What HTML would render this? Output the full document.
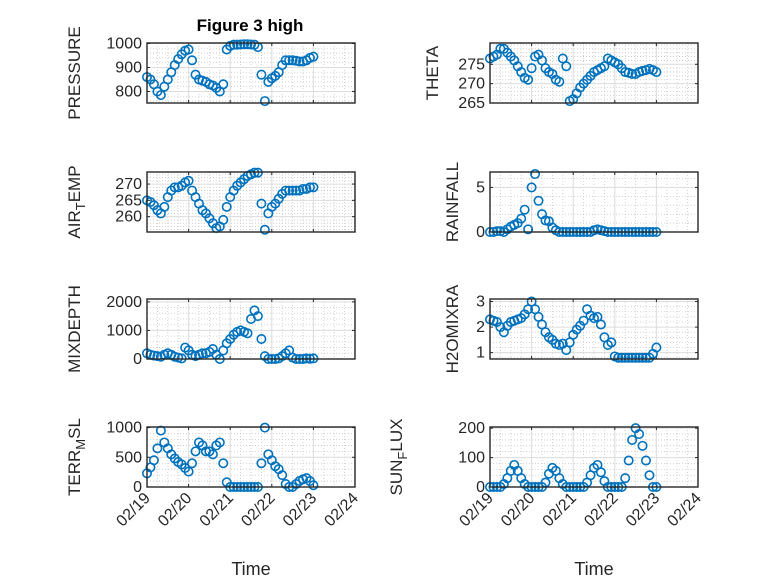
<!DOCTYPE html>
<html><head><meta charset="utf-8"><style>
html,body{margin:0;padding:0;background:#fff;}
svg{display:block;font-family:"Liberation Sans",sans-serif;}
</style></head><body>
<svg id="fig" width="778" height="583" viewBox="0 0 778 583">
<rect width="778" height="583" fill="#fff"/>
<text x="250" y="31" text-anchor="middle" font-size="17" font-weight="bold" fill="#000">Figure 3 high</text>
</svg>
<script>
// hours 0..96 step 2
const hours = [0,2,4,6,8,10,12,14,16,18,20,22,24,26,28,30,32,34,36,38,40,42,44,46,48,50,52,54,56,58,60,62,64,66,68,70,72,74,76,78,80,82,84,86,88,90,92,94,96];
const dayLabels = ["02/19","02/20","02/21","02/22","02/23","02/24"];
const pressure = [860,850,830,800,785,820,850,880,910,935,955,970,975,930,870,850,845,840,830,825,815,800,830,975,990,995,995,996,997,997,996,995,985,870,760,840,855,865,880,910,930,930,930,928,925,925,930,940,945];
const airTemp = [265,264.5,263.5,262,261,263,266,268,269,269,269.5,270.5,271,268,266,264,262,261,259.5,258,256.5,257,259,263,266,268,269.5,270.5,271.5,272.5,273,273.5,273.5,264,256,261,263,264,265.5,267,268,268,268,268,268,268.5,268.5,269,269];
const mixDepth = [200,150,120,100,80,150,200,150,80,50,20,400,300,150,100,150,200,200,250,350,150,0,300,550,700,850,950,1000,950,900,1400,1700,1500,700,100,0,0,0,20,100,200,300,50,0,0,0,20,10,20];
const terrMsl = [230,330,450,650,950,750,650,550,480,420,380,320,260,400,600,750,700,600,600,550,700,750,400,80,0,0,0,0,0,0,0,0,0,400,1000,550,450,350,300,200,50,0,0,50,100,130,150,100,30];
const theta = [276.5,277,277.5,279,279,278,277,276,274.5,273,271.5,271,274,277,277.5,276,274,273,272.5,271,270.5,276.5,274.5,265.5,266,267.5,269,270,271,272,273,273.5,274,274.5,276.5,276,275.5,275,274,273,272.8,272.5,272.5,273,273.3,273.5,273.8,273.5,273];
const rainfall = [0,0,0.1,0.1,0,0.3,0.6,0.8,1,1.5,2.5,0.3,5,6.5,3.5,2,1.3,1.2,0.5,0.2,0,0,0,0,0,0,0,0,0,0,0.2,0.3,0.2,0.1,0,0,0,0,0,0,0,0,0,0,0,0,0,0,0];
const h2oMixRa = [2.3,2.25,2.2,2.0,1.8,2.05,2.2,2.25,2.3,2.35,2.5,2.7,3.0,2.7,2.4,2.1,1.8,1.6,1.5,1.35,1.3,1.35,1.1,1.4,1.7,1.9,2.05,2.25,2.7,2.45,2.35,2.4,2.1,1.6,1.3,1.4,0.85,0.8,0.8,0.8,0.8,0.8,0.8,0.8,0.8,0.8,0.8,0.95,1.2];
const sunFlux = [0,0,0,0,10,30,55,75,55,30,10,0,0,0,0,0,15,45,65,55,30,10,0,0,0,0,0,0,15,40,65,75,50,20,0,0,0,0,0,30,90,160,200,180,140,90,40,0,0];

const pressureTicks=[800,900,1000], airTicks=[260,265,270], mixTicks=[0,1000,2000], terrTicks=[0,500,1000];
const thetaTicks=[265,270,275], rainTicks=[0,5], h2oTicks=[1,2,3], sunTicks=[0,100,200];

const NS="http://www.w3.org/2000/svg";
const svg=document.getElementById('fig');
function mk(tag,attrs,parent){const e=document.createElementNS(NS,tag);for(const k in attrs)e.setAttribute(k,attrs[k]);(parent||svg).appendChild(e);return e;}

const panels=[
 {id:'pressure',data:pressure,ticks:pressureTicks,ylim:[752,1002],minor:20,L:147,T:43,label:['PRESSURE'],lx:80},
 {id:'air-temp',data:airTemp,ticks:airTicks,ylim:[255.3,273.7],minor:1,L:147,T:172,label:['AIR','T','EMP'],lx:80},
 {id:'mixdepth',data:mixDepth,ticks:mixTicks,ylim:[0,2100],minor:200,L:147,T:299,label:['MIXDEPTH'],lx:80},
 {id:'terr-msl',data:terrMsl,ticks:terrTicks,ylim:[0,1010],minor:100,L:147,T:427,label:['TERR','M','SL'],lx:80},
 {id:'theta',data:theta,ticks:thetaTicks,ylim:[265,280.5],minor:1,L:490,T:43,label:['THETA'],lx:438},
 {id:'rainfall',data:rainfall,ticks:rainTicks,ylim:[0,6.73],minor:1,L:490,T:172,label:['RAINFALL'],lx:458},
 {id:'h2omixra',data:h2oMixRa,ticks:h2oTicks,ylim:[0.75,3.1],minor:0.2,L:490,T:299,label:['H2OMIXRA'],lx:458},
 {id:'sun-flux',data:sunFlux,ticks:sunTicks,ylim:[0,204],minor:20,L:490,T:427,label:['SUN','F','LUX'],lx:402}
];
const W=208,H=60;
panels.forEach((p,pi)=>{
  const g=mk('g',{});
  
  
  const xs=h=>p.L+h/120*W;
  const ys=v=>p.T+H-(v-p.ylim[0])/(p.ylim[1]-p.ylim[0])*H;
  mk('rect',{x:p.L,y:p.T,width:W,height:H,fill:'#fff'},g);
  for(let h=6;h<120;h+=6){ if(h%24===0)continue; mk('line',{x1:xs(h),x2:xs(h),y1:p.T,y2:p.T+H,stroke:'#c8c8c8','stroke-width':0.8,'stroke-dasharray':'1,2'},g);}
  const step=p.minor;
  for(let v=Math.ceil(p.ylim[0]/step)*step;v<p.ylim[1];v+=step){
    if(p.ticks.some(t=>Math.abs(t-v)<1e-6))continue;
    mk('line',{x1:p.L,x2:p.L+W,y1:ys(v),y2:ys(v),stroke:'#c8c8c8','stroke-width':0.8,'stroke-dasharray':'1,2'},g);
  }
  for(let d=1;d<5;d++) mk('line',{x1:xs(d*24),x2:xs(d*24),y1:p.T,y2:p.T+H,stroke:'#dcdcdc','stroke-width':1},g);
  p.ticks.forEach(t=>{const y=ys(t); mk('line',{x1:p.L,x2:p.L+W,y1:y,y2:y,stroke:'#dcdcdc','stroke-width':1},g);
    const tl=mk('text',{x:p.L-5,y:y+5,'text-anchor':'end','font-size':16,fill:'#262626'},g); tl.textContent=t;
    
    
    mk('line',{x1:p.L,x2:p.L+3,y1:y,y2:y,stroke:'#262626','stroke-width':1},g);
    mk('line',{x1:p.L+W,x2:p.L+W-3,y1:y,y2:y,stroke:'#262626','stroke-width':1},g);
  });
  for(let d=0;d<=5;d++){const x=xs(d*24);
    mk('line',{x1:x,x2:x,y1:p.T+H,y2:p.T+H-3,stroke:'#262626','stroke-width':1},g);
    mk('line',{x1:x,x2:x,y1:p.T,y2:p.T+3,stroke:'#262626','stroke-width':1},g);
  }
  const clip='clip'+pi;
  const cp=mk('clipPath',{id:clip},g); mk('rect',{x:p.L-7,y:p.T-7,width:W+14,height:H+14},cp);
  const dg=mk('g',{'clip-path':'url(#'+clip+')'},g);
  
  
  hours.forEach((h,i)=>{
    const c=mk('circle',{cx:xs(h),cy:ys(p.data[i]),r:4.2,fill:'none',stroke:'#0072BD','stroke-width':1.6},dg);
    
    
  });
  mk('rect',{x:p.L,y:p.T,width:W,height:H,fill:'none',stroke:'#262626','stroke-width':1.4},g);
  const cy=p.T+H/2;
  const lab=mk('text',{x:p.lx,y:cy,'text-anchor':'middle','font-size':17,fill:'#262626',transform:`rotate(-90 ${p.lx} ${cy})`},g);
  
  
  if(p.label.length===1){lab.textContent=p.label[0];}
  else{
    const a=mk('tspan',{},lab);a.textContent=p.label[0];
    const b=mk('tspan',{'font-size':13,dy:5},lab);b.textContent=p.label[1];
    const c=mk('tspan',{dy:-5},lab);c.textContent=p.label[2];
  }
  if(p.T===427){
    dayLabels.forEach((s,d)=>{const x=xs(d*24)+4,y=p.T+H+12;
      const t=mk('text',{x:x,y:y,'text-anchor':'end','font-size':16,fill:'#262626',transform:`rotate(-45 ${x} ${y})`},g);
      t.textContent=s;
      
      
    });
    const xl=mk('text',{x:p.L+W/2,y:575,'text-anchor':'middle','font-size':18,fill:'#262626'},g);
    xl.textContent='Time';
    
    
  }
});
</script>
</body></html>
